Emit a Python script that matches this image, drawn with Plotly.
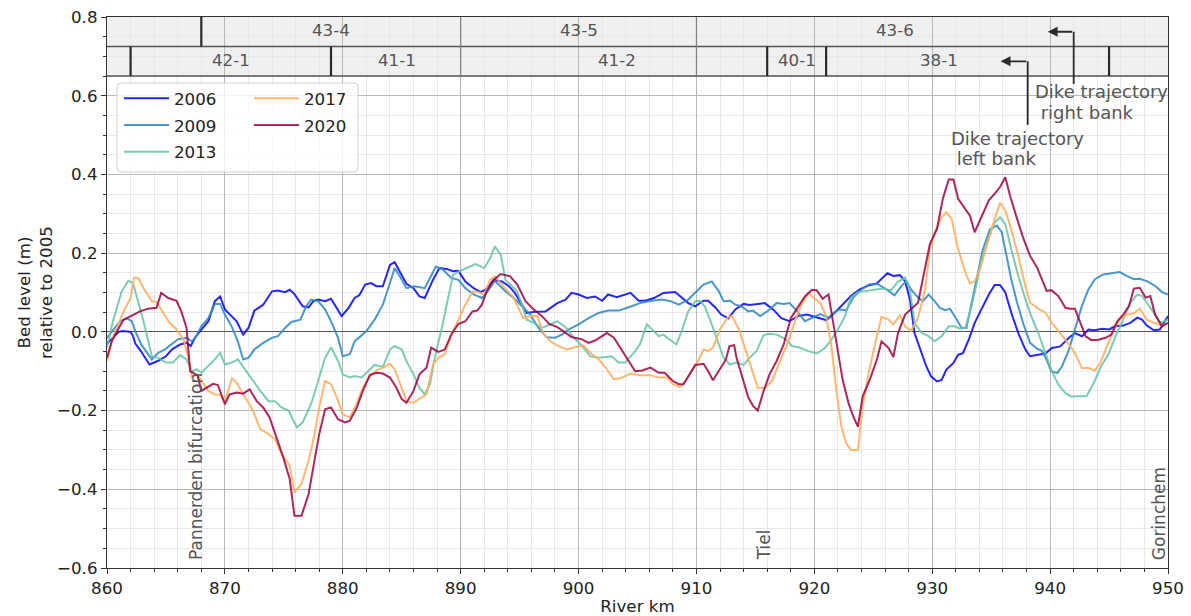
import plotly.graph_objects as go

# ---- bed level change relative to 2005 (m), per survey year ----
KM_2006 = [860, 861, 861.3, 862, 862.2, 862.4, 862.9, 863.6, 864.3, 865, 865.5, 866.2, 866.75, 867.1, 867.5,
           868, 868.6, 869.15, 869.6, 870, 870.4, 871, 871.55, 872, 872.5, 873.25, 874, 874.5, 875.1, 875.5,
           875.9, 876.6, 877.1, 877.5, 877.9, 878.5, 879, 879.5, 879.9, 880.5, 881, 881.4, 881.9, 882.4,
           882.85, 883.4, 884, 884.4, 885, 885.4, 886, 886.5, 886.95, 887.65, 888.2, 888.8, 889.35, 889.8,
           890.4, 891.1, 891.7, 892.1, 892.8, 893.5, 894.1, 894.6, 895.2, 895.6, 896.3, 897.2, 898.2, 898.9,
           899.4, 900, 900.7, 901.4, 902, 902.5, 903.25, 903.8, 904.4, 905.1, 905.65, 906.4, 907.2, 908.2,
           908.75, 909.3, 909.9, 910.6, 911, 911.6, 912.1, 912.7, 913.3, 914, 914.5, 915.1, 915.8, 916.5,
           917.2, 917.9, 918.6, 919.35, 920.3, 921, 921.45, 922, 922.6, 923.1, 923.85, 924.6, 925.3, 925.7,
           926.2, 926.7, 927.25, 927.7, 928.1, 928.5, 928.95, 929.5, 929.9, 930.4, 930.8, 931.2, 931.8,
           932.2, 932.6, 933.1, 933.6, 934.2, 934.8, 935.3, 935.75, 936.2, 936.7, 937.3, 937.9, 938.3, 939,
           939.6, 940.15, 940.85, 941.6, 942.1, 942.7, 943.25, 943.8, 944.4, 945, 945.5, 946.2, 946.8,
           947.4, 947.8, 948.2, 948.8, 949.3, 950]
BED_2006 = [-0.03, 0.0, 0.002, 0.0, -0.01, -0.03, -0.05, -0.083, -0.074, -0.062, -0.045, -0.032, -0.028, -0.036,
            -0.013, 0.006, 0.027, 0.078, 0.09, 0.057, 0.046, 0.027, -0.007, 0.01, 0.054, 0.069, 0.103, 0.105,
            0.101, 0.107, 0.096, 0.065, 0.062, 0.078, 0.082, 0.078, 0.084, 0.061, 0.04, 0.061, 0.086, 0.093,
            0.12, 0.124, 0.116, 0.116, 0.17, 0.177, 0.145, 0.122, 0.111, 0.09, 0.086, 0.132, 0.162, 0.16,
            0.154, 0.155, 0.128, 0.111, 0.101, 0.107, 0.132, 0.128, 0.116, 0.099, 0.069, 0.048, 0.051, 0.052,
            0.073, 0.082, 0.099, 0.095, 0.086, 0.09, 0.079, 0.095, 0.088, 0.093, 0.099, 0.079, 0.079, 0.086,
            0.099, 0.101, 0.088, 0.073, 0.065, 0.079, 0.079, 0.062, 0.044, 0.034, 0.057, 0.071, 0.068, 0.071,
            0.073, 0.057, 0.035, 0.027, 0.04, 0.044, 0.036, 0.03, 0.04, 0.057, 0.074, 0.091, 0.108, 0.118,
            0.123, 0.134, 0.149, 0.142, 0.144, 0.129, 0.083, -0.003, -0.041, -0.088, -0.113, -0.126, -0.122,
            -0.096, -0.079, -0.058, -0.054, -0.02, 0.023, 0.061, 0.095, 0.119, 0.119, 0.1, 0.049, -0.003,
            -0.045, -0.062, -0.058, -0.055, -0.041, -0.037, -0.015, -0.003, -0.011, 0.006, 0.004, 0.008,
            0.006, 0.014, 0.016, 0.023, 0.036, 0.031, 0.016, 0.004, 0.006, 0.04]

KM_2009 = [860, 860.4, 861.1, 861.7, 862.1, 862.4, 862.9, 863.8, 864.35, 864.9, 865.5, 866, 866.75, 867.2, 867.5,
           868, 868.6, 869.15, 869.6, 870, 870.6, 871.1, 871.55, 872, 872.5, 873.25, 874, 874.5, 875.1,
           875.65, 876.4, 876.9, 877.3, 877.9, 878.5, 879, 879.6, 880, 880.6, 881, 881.4, 882, 882.7, 883.4,
           884, 884.4, 884.8, 885.4, 886.1, 886.95, 887.4, 887.9, 888.5, 889.2, 889.8, 890.4, 891.1, 891.8,
           892.2, 892.9, 893.8, 894.5, 895.2, 895.9, 896.6, 897.3, 898, 898.6, 899.15, 900, 900.85, 901.7,
           902.5, 903.4, 904.2, 905.2, 906.2, 907.1, 907.8, 908.5, 909.3, 910, 910.6, 911.3, 911.9, 912.3,
           912.85, 913.3, 913.8, 914.4, 914.8, 915.4, 916, 916.8, 917.4, 917.9, 918.5, 919.2, 919.8, 920.5,
           921.2, 921.7, 922.15, 922.7, 923.3, 924, 924.7, 925.4, 926.3, 926.8, 927.4, 927.8, 928.2, 928.8,
           929.2, 929.7, 930.2, 930.65, 931.1, 931.5, 931.9, 932.5, 932.9, 933.3, 933.8, 934.3, 934.9, 935.5,
           935.9, 936.3, 936.7, 937.2, 937.7, 938.3, 938.9, 939.3, 939.7, 940.1, 940.6, 941, 941.6, 942.1,
           942.7, 943.25, 943.8, 944.5, 945.2, 945.9, 946.5, 947.1, 947.6, 948.2, 948.9, 949.5, 950]
BED_2009 = [-0.015, 0.0, 0.027, 0.034, 0.027, 0.002, -0.032, -0.07, -0.053, -0.045, -0.032, -0.019, -0.015,
            -0.024, -0.015, 0.014, 0.035, 0.071, 0.071, 0.044, 0.012, -0.024, -0.07, -0.066, -0.045, -0.028,
            -0.015, -0.011, 0.01, 0.025, 0.031, 0.065, 0.082, 0.078, 0.057, 0.027, -0.015, -0.062, -0.057,
            -0.024, -0.014, 0.002, 0.031, 0.069, 0.124, 0.162, 0.143, 0.111, 0.116, 0.111, 0.137, 0.166, 0.158,
            0.137, 0.132, 0.111, 0.095, 0.086, 0.099, 0.13, 0.103, 0.086, 0.065, 0.044, 0.01, -0.014, -0.015,
            -0.007, 0.006, 0.019, 0.035, 0.048, 0.054, 0.054, 0.062, 0.073, 0.079, 0.082, 0.078, 0.069, 0.082,
            0.103, 0.12, 0.128, 0.103, 0.078, 0.079, 0.069, 0.065, 0.052, 0.054, 0.04, 0.052, 0.073, 0.071,
            0.073, 0.054, 0.027, 0.035, 0.045, 0.036, 0.05, 0.057, 0.055, 0.087, 0.108, 0.121, 0.121, 0.104,
            0.093, 0.117, 0.129, 0.108, 0.087, 0.078, 0.095, 0.078, 0.061, 0.055, 0.059, 0.04, 0.01, 0.01,
            0.066, 0.142, 0.21, 0.261, 0.27, 0.253, 0.197, 0.134, 0.074, 0.023, -0.028, -0.043, -0.048,
            -0.071, -0.1, -0.105, -0.088, -0.045, 0.006, 0.066, 0.108, 0.134, 0.146, 0.149, 0.152, 0.142,
            0.134, 0.135, 0.129, 0.117, 0.101, 0.095]

KM_2013 = [860, 860.5, 861.25, 861.8, 862.2, 862.5, 863.1, 863.8, 864.35, 865, 865.6, 866.2, 866.75, 867.2,
           867.6, 868, 868.45, 869.15, 869.6, 870, 870.6, 871.1, 871.7, 872.4, 873.1, 873.7, 874.25, 874.8,
           875.4, 876.1, 876.6, 877.35, 877.9, 878.5, 879, 879.6, 880, 880.6, 881, 881.6, 882.15, 882.7,
           883.4, 884, 884.4, 885, 885.4, 886, 886.5, 886.95, 887.4, 887.8, 888.4, 888.9, 889.35, 889.9,
           890.5, 891.25, 892, 892.5, 892.9, 893.4, 893.8, 894.2, 894.8, 895.2, 895.6, 896.2, 896.9, 897.6,
           898.2, 898.9, 899.6, 900.3, 901, 901.7, 902.3, 902.8, 903.4, 903.95, 904.7, 905.2, 905.8, 906.2,
           906.8, 907.2, 907.6, 908.3, 908.75, 909.3, 909.9, 910.3, 910.7, 911.3, 911.9, 912.3, 912.85, 913.4,
           914, 914.5, 915.1, 915.7, 916.2, 916.8, 917.5, 918.1, 918.65, 919.5, 920.2, 920.9, 921.45, 922,
           922.6, 923.1, 923.7, 924.4, 925.1, 925.8, 926.5, 927.1, 927.7, 928.1, 928.5, 929.1, 929.7, 930.2,
           930.8, 931.4, 931.9, 932.35, 932.8, 933.2, 933.6, 934.2, 934.8, 935.3, 935.75, 936.2, 936.7,
           937.3, 937.9, 938.4, 939, 939.6, 940.1, 940.7, 941.3, 941.8, 942.4, 943.1, 943.7, 944.25, 945,
           945.5, 946.2, 946.8, 947.4, 947.8, 948.2, 948.8, 949.3, 950]
BED_2013 = [-0.04, 0.027, 0.103, 0.13, 0.124, 0.09, 0.027, -0.062, -0.066, -0.078, -0.078, -0.059, -0.07, -0.1,
            -0.095, -0.104, -0.091, -0.07, -0.053, -0.083, -0.078, -0.07, -0.095, -0.125, -0.154, -0.176,
            -0.176, -0.192, -0.2, -0.243, -0.23, -0.18, -0.125, -0.066, -0.039, -0.074, -0.108, -0.116,
            -0.112, -0.116, -0.1, -0.084, -0.089, -0.045, -0.036, -0.045, -0.074, -0.108, -0.142, -0.159,
            -0.133, -0.066, 0.01, 0.086, 0.145, 0.154, 0.162, 0.172, 0.162, 0.187, 0.217, 0.196, 0.132, 0.12,
            0.103, 0.069, 0.031, 0.023, 0.01, 0.019, 0.027, 0.012, -0.015, -0.036, -0.062, -0.066, -0.064,
            -0.062, -0.078, -0.078, -0.053, -0.032, 0.019, 0.006, -0.011, -0.007, -0.017, -0.032, 0.002, 0.052,
            0.078, 0.079, 0.065, 0.019, -0.032, -0.066, -0.083, -0.078, -0.084, -0.066, -0.049, -0.008, -0.005,
            -0.007, -0.017, -0.036, -0.039, -0.049, -0.055, -0.041, -0.02, 0.006, 0.04, 0.087, 0.101, 0.104,
            0.108, 0.11, 0.106, 0.127, 0.138, 0.108, 0.023, -0.003, -0.011, -0.024, -0.011, 0.014, 0.014,
            0.008, 0.01, 0.049, 0.1, 0.185, 0.24, 0.278, 0.291, 0.274, 0.21, 0.142, 0.083, 0.04, -0.003,
            -0.054, -0.096, -0.134, -0.156, -0.164, -0.164, -0.163, -0.13, -0.092, -0.054, -0.015, 0.031,
            0.074, 0.095, 0.091, 0.074, 0.049, 0.023, 0.031]

KM_2017 = [860, 860.5, 861.4, 862, 862.3, 862.65, 863.1, 863.8, 864.2, 864.8, 865.3, 865.9, 866.5, 866.9, 867.2,
           867.6, 868, 868.6, 869.15, 869.6, 870, 870.6, 871, 871.55, 872.1, 872.5, 873, 873.7, 874.25, 874.8,
           875.5, 875.9, 876.5, 877.1, 877.6, 878, 878.5, 879, 879.5, 880, 880.6, 881.2, 881.7, 882.3,
           882.85, 883.4, 884, 884.4, 885, 885.4, 886, 886.5, 887.1, 887.65, 888.1, 888.65, 889.2, 889.8,
           890.4, 891, 891.5, 892, 892.5, 892.9, 893.4, 893.9, 894.5, 894.9, 895.3, 895.9, 896.5, 897, 897.6,
           898.3, 899, 899.7, 900.4, 901, 901.7, 902.3, 903, 903.7, 904.4, 905.2, 906.1, 906.8, 907.5, 908,
           908.6, 909, 909.6, 910.2, 910.6, 911, 911.4, 912, 912.6, 913, 913.6, 914.1, 914.7, 915.2, 915.8,
           916.4, 917.1, 917.8, 918.4, 918.9, 919.5, 920, 920.5, 921, 921.45, 921.9, 922.3, 922.7, 923.1,
           923.7, 924.1, 924.6, 925.1, 925.7, 926.3, 926.7, 927.25, 927.7, 928.2, 928.8, 929.4, 929.8, 930.2,
           930.8, 931.2, 931.65, 932.2, 932.8, 933.2, 933.6, 934.05, 934.6, 935.2, 935.75, 936.2, 936.7,
           937.3, 937.9, 938.3, 939, 939.6, 940.15, 940.85, 941.6, 942.1, 942.7, 943.25, 943.8, 944.25,
           944.8, 945.4, 945.9, 946.5, 947.1, 947.6, 948.2, 948.8, 949.5, 950]
BED_2017 = [-0.074, -0.015, 0.052, 0.086, 0.138, 0.137, 0.111, 0.078, 0.076, 0.048, 0.023, 0.006, -0.019, -0.066,
            -0.116, -0.108, -0.123, -0.15, -0.159, -0.16, -0.176, -0.118, -0.129, -0.159, -0.184, -0.209,
            -0.247, -0.26, -0.273, -0.31, -0.34, -0.408, -0.386, -0.327, -0.26, -0.192, -0.125, -0.133,
            -0.167, -0.209, -0.218, -0.18, -0.142, -0.112, -0.098, -0.091, -0.081, -0.095, -0.142, -0.176,
            -0.18, -0.171, -0.159, -0.083, -0.066, -0.057, -0.007, 0.03, 0.069, 0.103, 0.101, 0.095, 0.132,
            0.141, 0.124, 0.107, 0.086, 0.061, 0.035, 0.04, 0.04, -0.003, -0.024, -0.036, -0.045, -0.039,
            -0.034, -0.053, -0.07, -0.091, -0.121, -0.116, -0.106, -0.11, -0.11, -0.116, -0.116, -0.133,
            -0.14, -0.128, -0.1, -0.07, -0.045, -0.049, -0.04, 0.006, 0.035, 0.041, 0.006, -0.04, -0.1, -0.142,
            -0.142, -0.125, -0.074, -0.024, 0.031, 0.069, 0.099, 0.085, 0.074, 0.04, -0.037, -0.156, -0.241,
            -0.283, -0.3, -0.3, -0.19, -0.105, -0.037, 0.038, 0.031, 0.019, 0.042, 0.014, 0.002, 0.036, 0.108,
            0.21, 0.253, 0.291, 0.304, 0.287, 0.21, 0.151, 0.123, 0.129, 0.159, 0.219, 0.278, 0.328, 0.308,
            0.261, 0.193, 0.117, 0.074, 0.059, 0.049, 0.023, -0.003, -0.032, -0.054, -0.092, -0.092, -0.098,
            -0.079, -0.037, 0.006, 0.031, 0.044, 0.047, 0.059, 0.031, 0.023, 0.016, 0.023]

KM_2020 = [860, 860.4, 861, 861.4, 862.1, 862.8, 863.5, 864.2, 864.6, 865.2, 865.9, 866.3, 866.75, 867.05,
           867.3, 867.7, 868, 868.45, 869, 869.4, 870, 870.4, 871, 871.55, 872.1, 872.7, 873.25, 873.8, 874.4,
           874.95, 875.5, 875.9, 876.5, 877.1, 877.6, 878, 878.5, 879, 879.6, 880.2, 880.6, 881.2, 881.7,
           882.3, 882.85, 883.4, 884, 884.55, 885, 885.4, 886, 886.5, 887.1, 887.5, 888.1, 888.65, 889.2,
           889.8, 890.4, 891, 891.4, 891.8, 892.2, 892.8, 893.4, 894.2, 894.8, 895.5, 896.2, 896.9, 897.5,
           898.2, 898.7, 899.4, 900.3, 900.85, 901.4, 902.4, 903, 903.7, 904.2, 904.8, 905.4, 906.1, 906.8,
           907.3, 908, 908.5, 908.9, 909.5, 909.9, 910.6, 911, 911.4, 912.1, 912.5, 912.8, 913.2, 913.4,
           913.8, 914.4, 914.8, 915.2, 915.7, 916.2, 916.8, 917.4, 918, 918.5, 919.2, 919.8, 920.2, 920.7,
           921.2, 921.6, 922, 922.4, 922.9, 923.3, 923.7, 924.1, 924.7, 925.3, 925.7, 926.3, 926.7, 927.1,
           927.7, 928.2, 928.8, 929.2, 929.8, 930.4, 930.9, 931.4, 931.8, 932.2, 932.8, 933.2, 933.6, 934.2,
           934.8, 935.3, 935.75, 936.2, 936.6, 937.2, 937.7, 938.3, 938.9, 939.3, 939.7, 940.1, 940.7,
           941.3, 941.7, 942.1, 942.55, 943, 943.5, 944.1, 944.7, 945.2, 945.7, 946.2, 946.7, 947.1, 947.6,
           948.1, 948.5, 948.9, 949.5, 950]
BED_2020 = [-0.066, -0.024, 0.01, 0.031, 0.041, 0.052, 0.059, 0.061, 0.099, 0.086, 0.079, 0.052, 0.01, -0.1,
            -0.104, -0.112, -0.15, -0.142, -0.132, -0.135, -0.184, -0.159, -0.154, -0.157, -0.146, -0.176,
            -0.192, -0.218, -0.268, -0.319, -0.374, -0.467, -0.467, -0.412, -0.327, -0.26, -0.197, -0.192,
            -0.222, -0.23, -0.226, -0.192, -0.15, -0.11, -0.104, -0.106, -0.116, -0.142, -0.171, -0.18, -0.15,
            -0.108, -0.091, -0.04, -0.051, -0.045, -0.007, 0.02, 0.027, 0.052, 0.054, 0.069, 0.103, 0.132,
            0.147, 0.141, 0.12, 0.078, 0.057, 0.04, 0.02, 0.012, 0.002, -0.013, -0.019, -0.028, -0.022, -0.003,
            -0.015, -0.049, -0.074, -0.1, -0.098, -0.091, -0.104, -0.104, -0.125, -0.133, -0.133, -0.104,
            -0.084, -0.081, -0.1, -0.123, -0.091, -0.07, -0.036, -0.034, -0.066, -0.108, -0.167, -0.188, -0.2,
            -0.15, -0.108, -0.074, -0.032, 0.035, 0.057, 0.09, 0.107, 0.106, 0.084, 0.095, 0.023, -0.054,
            -0.122, -0.181, -0.215, -0.241, -0.164, -0.122, -0.071, -0.024, -0.041, -0.064, -0.003, 0.044,
            0.057, 0.074, 0.134, 0.223, 0.261, 0.338, 0.387, 0.387, 0.338, 0.312, 0.295, 0.253, 0.295, 0.334,
            0.351, 0.368, 0.393, 0.346, 0.287, 0.24, 0.193, 0.163, 0.134, 0.104, 0.106, 0.091, 0.061, 0.059,
            0.059, 0.023, -0.011, -0.021, -0.02, -0.015, -0.007, 0.027, 0.044, 0.066, 0.11, 0.112, 0.087,
            0.091, 0.044, 0.014, 0.023]

YEARS = ["2006", "2009", "2013", "2017", "2020"]
SERIES_KM = [KM_2006, KM_2009, KM_2013, KM_2017, KM_2020]
SERIES_BED = [BED_2006, BED_2009, BED_2013, BED_2017, BED_2020]
LINE_COLORS = ["rgba(0,0,255,0.85)", "rgba(50,135,195,0.88)", "rgba(102,194,165,0.85)",
               "rgba(253,174,97,0.88)", "rgba(158,1,66,0.85)"]
LEGEND_OF = ["legend", "legend", "legend", "legend2", "legend2"]

# ---- dike ring strip above the profile ----
BAND_BOTTOM, BAND_MID, BAND_TOP = 0.65, 0.725, 0.8
TOP_LABELS = ["43-4", "43-5", "43-6"]
TOP_LABEL_KM = [879.0, 900.0, 926.8]
BOTTOM_LABELS = ["42-1", "41-1", "41-2", "40-1", "38-1"]
BOTTOM_LABEL_KM = [870.5, 884.6, 903.3, 918.5, 930.6]
TOP_MARK_KM = [868.0]
BOTTOM_MARK_KM = [862.0, 879.0, 916.0, 921.0, 945.0]
DIVIDER_KM = [890.0, 910.0]

# dike trajectory callouts: corner km, arrow tip km, row level, leader end
DIKE_KM = [942.0, 938.1]
DIKE_TIP_KM = [939.8, 935.8]
DIKE_ROW_Y = [0.7625, 0.6875]
DIKE_LEADER_END = [0.630, 0.526]
# callout text lines: (text, km of left edge, level of line centre)
DIKE_LINES = ["Dike trajectory", "\u00a0right bank", "Dike trajectory", "\u00a0left bank"]
DIKE_LINE_KM = [938.52, 938.52, 931.4, 931.4]
DIKE_LINE_Y = [0.610, 0.557, 0.491, 0.440]

# places along the river
PLACES = ["Pannerden bifurcation", "Tiel", "Gorinchem"]
PLACE_KM = [867.5, 915.7, 949.2]

FONT = "DejaVu Sans"
FS = 16.7
TXT = "#222222"
GREY_TXT = "#555555"

fig = go.Figure()

for year, km, bed, col, lg in zip(YEARS, SERIES_KM, SERIES_BED, LINE_COLORS, LEGEND_OF):
    fig.add_trace(go.Scatter(
        x=km, y=bed, mode="lines", name=year, legend=lg, legendgroup=year,
        line=dict(color=col, width=2), hoverinfo="x+y+name",
    ))

shapes = []
# strip background and row lines
shapes.append(dict(type="rect", xref="x", yref="y", x0=860, x1=950, y0=BAND_BOTTOM, y1=BAND_TOP,
                   fillcolor="#f0f0f0", line=dict(width=0), layer="below"))
for yv in (BAND_MID, BAND_BOTTOM):
    shapes.append(dict(type="line", xref="x", yref="y", x0=860, x1=950, y0=yv, y1=yv,
                       line=dict(color="#555555", width=1.5), layer="above"))
for k in DIVIDER_KM:
    shapes.append(dict(type="line", xref="x", yref="y", x0=k, x1=k, y0=BAND_BOTTOM, y1=BAND_TOP,
                       line=dict(color="#808080", width=1.2), layer="above"))
for k in TOP_MARK_KM:
    shapes.append(dict(type="line", xref="x", yref="y", x0=k, x1=k, y0=BAND_MID, y1=BAND_TOP,
                       line=dict(color="#2a2a2a", width=2.2), layer="above"))
for k in BOTTOM_MARK_KM:
    shapes.append(dict(type="line", xref="x", yref="y", x0=k, x1=k, y0=BAND_BOTTOM, y1=BAND_MID,
                       line=dict(color="#2a2a2a", width=2.2), layer="above"))
# dike trajectory leaders
for k, ry, ye in zip(DIKE_KM, DIKE_ROW_Y, DIKE_LEADER_END):
    shapes.append(dict(type="line", xref="x", yref="y", x0=k, x1=k, y0=ry, y1=ye,
                       line=dict(color="#2a2a2a", width=1.8), layer="above"))

# legend frame (rounded, semi-transparent white) in plot-area fractions
W_PLOT, H_PLOT = 1061.0, 551.0
lx0, lx1 = 10 / W_PLOT, 251 / W_PLOT
ly0, ly1 = 396 / H_PLOT, 485 / H_PLOT
rx, ry = 4 / W_PLOT, 4 / H_PLOT
frame_path = (f"M{lx0+rx},{ly0} L{lx1-rx},{ly0} Q{lx1},{ly0} {lx1},{ly0+ry} L{lx1},{ly1-ry} "
              f"Q{lx1},{ly1} {lx1-rx},{ly1} L{lx0+rx},{ly1} Q{lx0},{ly1} {lx0},{ly1-ry} "
              f"L{lx0},{ly0+ry} Q{lx0},{ly0} {lx0+rx},{ly0} Z")
shapes.append(dict(type="path", xref="paper", yref="paper", path=frame_path,
                   fillcolor="rgba(255,255,255,0.8)", line=dict(color="#d0d0d0", width=1), layer="above"))

annotations = []
for lab, k in zip(TOP_LABELS, TOP_LABEL_KM):
    annotations.append(dict(x=k, y=(BAND_MID + BAND_TOP) / 2 + 0.004, xref="x", yref="y", text=lab,
                            showarrow=False, font=dict(family=FONT, size=FS, color=GREY_TXT)))
for lab, k in zip(BOTTOM_LABELS, BOTTOM_LABEL_KM):
    annotations.append(dict(x=k, y=(BAND_BOTTOM + BAND_MID) / 2 + 0.004, xref="x", yref="y", text=lab,
                            showarrow=False, font=dict(family=FONT, size=FS, color=GREY_TXT)))
for k, tip, ry_ in zip(DIKE_KM, DIKE_TIP_KM, DIKE_ROW_Y):
    annotations.append(dict(x=tip, y=ry_, xref="x", yref="y", ax=k, ay=ry_, axref="x", ayref="y",
                            text="", showarrow=True, arrowhead=2, arrowsize=1.1, arrowwidth=1.8,
                            arrowcolor="#2a2a2a", standoff=0, startstandoff=0))
for txt, k, yv in zip(DIKE_LINES, DIKE_LINE_KM, DIKE_LINE_Y):
    annotations.append(dict(x=k, y=yv, xref="x", yref="y", text=txt, showarrow=False,
                            xanchor="left", yanchor="middle",
                            font=dict(family=FONT, size=18, color=GREY_TXT)))
for name, k in zip(PLACES, PLACE_KM):
    annotations.append(dict(x=k, y=-0.585, xref="x", yref="y", text=name, showarrow=False,
                            textangle=-90, xanchor="center", yanchor="bottom",
                            font=dict(family=FONT, size=17, color=GREY_TXT)))

legend_common = dict(
    bgcolor="rgba(0,0,0,0)", borderwidth=0, font=dict(family=FONT, size=FS, color=TXT),
    xanchor="left", yanchor="top", traceorder="grouped", tracegroupgap=2,
    itemwidth=45,
)

fig.update_layout(
    width=1191, height=616,
    margin=dict(l=107, r=23, t=17, b=48, autoexpand=False),
    paper_bgcolor="white", plot_bgcolor="white",
    font=dict(family=FONT, size=FS, color=TXT),
    shapes=shapes, annotations=annotations,
    legend=dict(x=12 / W_PLOT, y=487 / H_PLOT, **legend_common),
    legend2=dict(x=142 / W_PLOT, y=487 / H_PLOT, **legend_common),
    showlegend=True,
)

fig.update_xaxes(
    range=[860, 950], tick0=860, dtick=10, tickformat="d",
    showline=True, linecolor="#333333", linewidth=1.2, mirror=True,
    ticks="outside", ticklen=5, tickwidth=1, tickcolor="#333333",
    showgrid=True, gridcolor="#b8b8b8", gridwidth=1,
    minor=dict(dtick=2, tick0=860, showgrid=True, gridcolor="#e8e8e8", gridwidth=1,
               ticks="outside", ticklen=3, tickcolor="#333333"),
    zeroline=False,
    tickfont=dict(family=FONT, size=FS, color=TXT),
    title=dict(text="River km", standoff=3, font=dict(family=FONT, size=FS, color=TXT)),
)

fig.update_yaxes(
    range=[-0.6, 0.8],
    tickvals=[-0.6, -0.4, -0.2, 0.0, 0.2, 0.4, 0.6, 0.8],
    ticktext=["\u22120.6", "\u22120.4", "\u22120.2", "0.0", "0.2", "0.4", "0.6", "0.8"],
    showline=True, linecolor="#333333", linewidth=1.2, mirror=True,
    ticks="outside", ticklen=5, tickwidth=1, tickcolor="#333333",
    showgrid=True, gridcolor="#b8b8b8", gridwidth=1,
    minor=dict(dtick=0.05, tick0=0, showgrid=True, gridcolor="#e8e8e8", gridwidth=1,
               ticks="outside", ticklen=3, tickcolor="#333333"),
    zeroline=True, zerolinecolor="#555555", zerolinewidth=1.3,
    tickfont=dict(family=FONT, size=FS, color=TXT),
    title=dict(text="Bed level (m)<br>relative to 2005", standoff=0,
               font=dict(family=FONT, size=FS, color=TXT)),
)

fig.write_html("out.html")
